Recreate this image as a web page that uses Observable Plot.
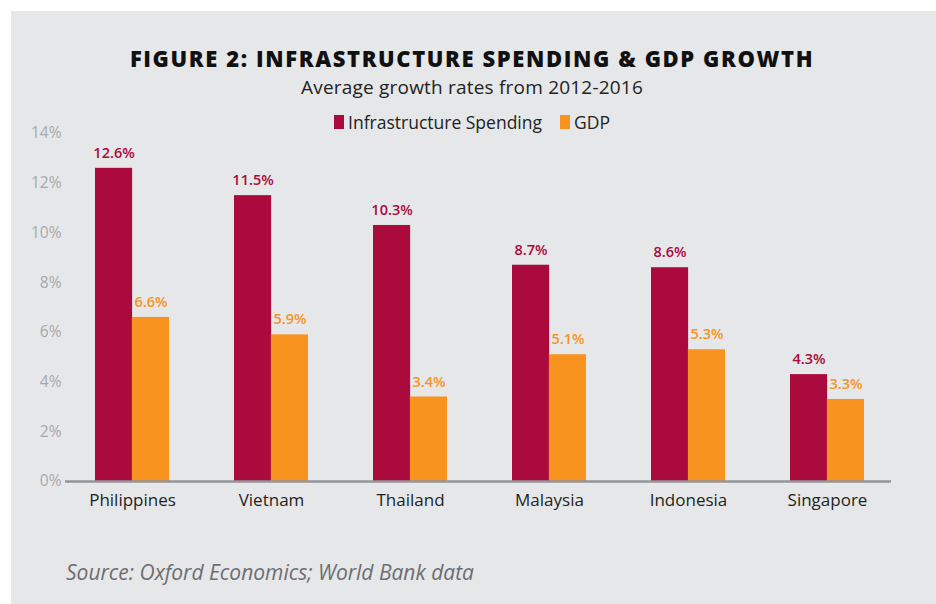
<!DOCTYPE html>
<html>
<head>
<meta charset="utf-8">
<script src="https://cdn.jsdelivr.net/npm/d3@7"></script>
<script src="https://cdn.jsdelivr.net/npm/@observablehq/plot@0.6"></script>
<style>
  html, body { margin: 0; padding: 0; background: #ffffff; }
  body { width: 936px; height: 604px; position: relative; overflow: hidden; }
  #panel { position: absolute; left: 11px; top: 11px; right: 0; bottom: 0; background: #e6e7e8; }
  .abs { position: absolute; left: 0; width: 944px; text-align: center; }
  #title { top: 46px; height: 24px; line-height: 24px; font-family: "Open Sans", sans-serif; font-weight: 800; font-size: 22px; color: #111; letter-spacing: 1.6px; }
  #subtitle { top: 76px; height: 22px; line-height: 22px; font-family: "Open Sans", sans-serif; font-size: 19px; color: #222; letter-spacing: 0.2px; }
  #legend { top: 111px; height: 22px; line-height: 22px; font-family: "Open Sans", sans-serif; font-size: 17.5px; color: #222; display: flex; justify-content: center; align-items: center; gap: 0; }
  .sw { display: inline-block; width: 10px; height: 14px; margin-right: 4px; }
  .item { display: inline-flex; align-items: center; margin: 0 9px; }
  #chart { position: absolute; left: 0; top: 100px; }
  #caption { position: absolute; left: 66px; top: 559px; line-height: 26px; font-family: "Open Sans", sans-serif; font-style: italic; font-size: 21px; color: #6d6e71; }
</style>
</head>
<body>
<div id="panel"></div>
<div id="title" class="abs">FIGURE 2: INFRASTRUCTURE SPENDING &amp; GDP GROWTH</div>
<div id="subtitle" class="abs">Average growth rates from 2012-2016</div>
<div id="legend" class="abs"></div>
<div id="chart"></div>
<div id="caption">Source: Oxford Economics; World Bank data</div>
<script>
const countries = ["Philippines", "Vietnam", "Thailand", "Malaysia", "Indonesia", "Singapore"];
const infrastructure = [12.6, 11.5, 10.3, 8.7, 8.6, 4.3];
const gdp = [6.6, 5.9, 3.4, 5.1, 5.3, 3.3];
const seriesNames = ["Infrastructure Spending", "GDP"];
const seriesColors = ["#ab0a3d", "#f7931e"];
const yTicks = [0, 2, 4, 6, 8, 10, 12, 14];

const infraRows = countries.map((c, i) => ({country: c, value: infrastructure[i]}));
const gdpRows = countries.map((c, i) => ({country: c, value: gdp[i]}));

// legend
const legend = document.getElementById("legend");
seriesNames.forEach((s, i) => {
  const it = document.createElement("span");
  it.className = "item";
  it.innerHTML = `<span class="sw" style="background:${seriesColors[i]}"></span>${s}`;
  legend.appendChild(it);
});

const W = 936, ML = 65, MR = 43;
const padIn = 0.47, padOut = 0.21;
const step = (W - ML - MR) / (countries.length - padIn + 2 * padOut);
const bw = step * (1 - padIn);
const half = bw / 2;

const labelFont = {fontFamily: "Open Sans, sans-serif", fontWeight: 600, fontSize: 14.5};

const chart = Plot.plot({
  width: W,
  height: 421,
  marginTop: 33,
  marginBottom: 40,
  marginLeft: ML,
  marginRight: MR,
  style: {background: "transparent", fontFamily: "Open Sans, sans-serif"},
  x: {domain: countries, paddingInner: padIn, paddingOuter: padOut, label: null},
  y: {domain: [0, 14], label: null},
  marks: [
    Plot.axisY(yTicks, {tickSize: 0, tickPadding: 4, tickFormat: d => d + "%", fontSize: 15.5, fill: "#a7a9ac", label: null}),
    Plot.axisX({tickSize: 0, tickPadding: 12, fontSize: 17, fill: "#231f20", label: null}),
    Plot.barY(infraRows, {x: "country", y: "value", fill: seriesColors[0], insetRight: half}),
    Plot.barY(gdpRows, {x: "country", y: "value", fill: seriesColors[1], insetLeft: half}),
    Plot.ruleY([0], {stroke: "#939598", strokeWidth: 2.5, insetRight: 2}),
    Plot.text(infraRows, {x: "country", y: "value", text: d => d.value.toFixed(1) + "%", dx: -half / 2, dy: -15, fill: seriesColors[0], ...labelFont}),
    Plot.text(gdpRows, {x: "country", y: "value", text: d => d.value.toFixed(1) + "%", dx: half / 2, dy: -15, fill: seriesColors[1], ...labelFont})
  ]
});
document.getElementById("chart").appendChild(chart);
</script>
</body>
</html>
